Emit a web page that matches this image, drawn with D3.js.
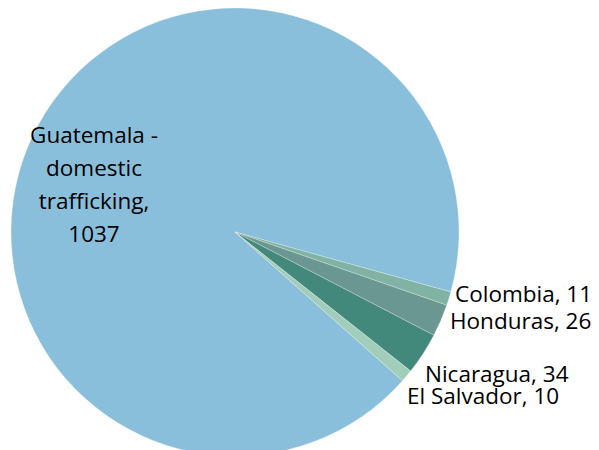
<!DOCTYPE html>
<html>
<head>
<meta charset="utf-8">
<script src="https://cdn.jsdelivr.net/npm/d3@7"></script>
<style>
	body { margin: 0; background: #fff; }
	svg { display: block; }
	.label { font-family: 'Open Sans', Lato, sans-serif; font-size: 22.5px; fill: #000; }
</style>
</head>
<body>
<div id="chart"></div>
<script>
// data
const countries = ['Guatemala - domestic trafficking', 'Colombia', 'Honduras', 'Nicaragua', 'El Salvador'];
const victims = [1037, 11, 26, 34, 10];
const colours = ['#8abfdc', '#80b3a3', '#6a978f', '#43897b', '#a2cdbb'];

const width = 599;
const height = 450;
const cx = 235;
const cy = 232;
const radius = 224;
// first slice starts where the small ones end (deg, clockwise from 12 o'clock)
const startDeg = 131.6;

// label placement: x, y of the first baseline, anchor
const labelPos = [
	{ x: 94, y: 143, anchor: 'middle', lines: ['Guatemala -', 'domestic', 'trafficking,', '1037'] },
	{ x: 455, y: 302, anchor: 'start' },
	{ x: 450, y: 329, anchor: 'start' },
	{ x: 425, y: 382, anchor: 'start' },
	{ x: 407, y: 404, anchor: 'start' }
];

const data = countries.map((c, i) => ({ name: c, value: victims[i], colour: colours[i] }));

const svg = d3.select('#chart')
	.append('svg')
	.attr('width', width)
	.attr('height', height);

const start = startDeg * Math.PI / 180;
const pie = d3.pie()
	.sort(null)
	.value(d => d.value)
	.startAngle(start)
	.endAngle(start + 2 * Math.PI);

const arc = d3.arc()
	.innerRadius(0)
	.outerRadius(radius);

const g = svg.append('g')
	.attr('transform', `translate(${cx},${cy})`);

g.selectAll('path')
	.data(pie(data))
	.join('path')
	.attr('d', arc)
	.attr('fill', d => d.data.colour)
	.attr('stroke', '#ffffff')
	.attr('stroke-opacity', 0.35)
	.attr('stroke-width', 0.75);

// labels
data.forEach((d, i) => {
	const p = labelPos[i];
	const lines = p.lines || [`${d.name}, ${d.value}`];
	const t = svg.append('text')
		.attr('class', 'label')
		.attr('text-anchor', p.anchor)
		.attr('x', p.x)
		.attr('y', p.y);
	lines.forEach((l, j) => {
		t.append('tspan')
			.attr('x', p.x)
			.attr('dy', j === 0 ? 0 : 33)
			.text(l);
	});
});
</script>
</body>
</html>
